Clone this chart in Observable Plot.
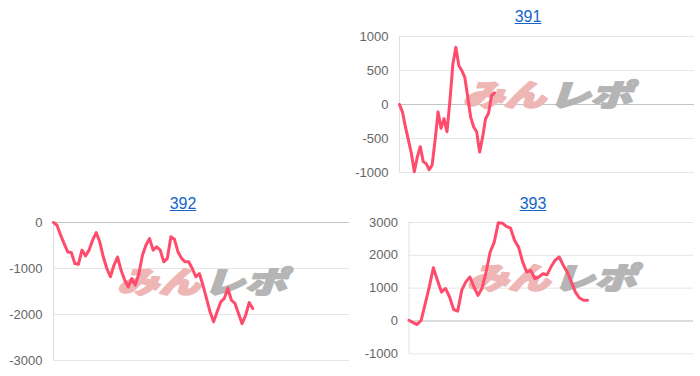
<!DOCTYPE html>
<html>
<head>
<meta charset="utf-8">
<script src="https://cdn.jsdelivr.net/npm/d3@7"></script>
<script src="https://cdn.jsdelivr.net/npm/@observablehq/plot@0.6"></script>
<style>
  html, body { margin: 0; padding: 0; background: #fff; }
  #board { position: relative; width: 700px; height: 376px; overflow: hidden;
           font-family: "Liberation Sans", Arial, sans-serif; }
  .panel { position: absolute; }
  .title { position: absolute; font-size: 16px; line-height: 20px; color: #1565c8;
           text-decoration: underline; transform: translateX(-50%); white-space: nowrap; }
</style>
</head>
<body>
<div id="board"></div>
<script>
// Machine numbers
const machines = ["391", "392", "393"];

// Running balance (medals) per machine
const balance391 = [0, -110, -330, -520, -720, -990, -770, -620, -840, -870, -960, -890, -520, -110,
  -350, -210, -400, 60, 600, 840, 570, 500, 400, 110, -190, -330, -400, -700, -480, -210, -130, 130, 170];

const balance392 = [0, -60, -275, -460, -640, -650, -890, -910, -600, -725, -600, -385, -220, -420,
  -750, -1000, -1180, -930, -750, -1040, -1250, -1400, -1220, -1360, -1110, -710, -490, -350, -600,
  -530, -600, -855, -780, -310, -365, -640, -780, -855, -855, -1000, -1180, -1110, -1360, -1650,
  -1940, -2160, -1940, -1730, -1650, -1430, -1690, -1760, -1980, -2200, -2020, -1740, -1870];

const balance393 = [20, -50, -110, 20, 530, 1040, 1620, 1240, 880, 990, 730, 350, 300, 940, 1190,
  1340, 1040, 780, 1000, 1490, 2100, 2400, 2990, 2980, 2880, 2830, 2460, 2250, 1800, 1490, 1540,
  1290, 1340, 1440, 1410, 1650, 1850, 1950, 1700, 1490, 1190, 880, 700, 630, 630];

// Y-axis tick labels
const ticks391 = [-1000, -500, 0, 500, 1000];
const ticks392 = [-3000, -2000, -1000, 0];
const ticks393 = [-1000, 0, 1000, 2000, 3000];

// Watermark text
const markLeft = "みん";
const markRight = "レポ";

const series = [balance391, balance392, balance393];
const tickSets = [ticks391, ticks392, ticks393];

// Panel placement on the board
const layout = [
  {left: 350, top: 26,  width: 350, height: 160, mt: 10, mb: 14,   ml: 49,   mr: 6, slots: 99.4, titleX: 528, titleY: 7},
  {left: 0,   top: 212, width: 350, height: 160, mt: 10, mb: 12,   ml: 53,   mr: 1, slots: 83.2, titleX: 183, titleY: 194},
  {left: 350, top: 212, width: 350, height: 160, mt: 10, mb: 18.7, ml: 58.5, mr: 7, slots: 70.1, titleX: 533, titleY: 194}
];

const board = document.getElementById("board");

// heavy italic watermark lettering (stroke in the fill colour thickens the glyphs)
const watermark = (text, dx, fill) => Plot.text([text], {
  text: d => d, frameAnchor: "middle", dx, dy: -8, fill, stroke: fill, strokeWidth: 2.2,
  fontSize: 34, fontWeight: 900, fontStyle: "italic",
  fontFamily: "Noto Sans CJK JP", letterSpacing: 1
});

machines.forEach((name, k) => {
  const L = layout[k];
  const values = series[k];
  const ticks = tickSets[k];

  const title = document.createElement("div");
  title.className = "title";
  title.textContent = name;
  title.style.left = L.titleX + "px";
  title.style.top = L.titleY + "px";
  board.appendChild(title);

  const chart = Plot.plot({
    width: L.width,
    height: L.height,
    marginTop: L.mt,
    marginBottom: L.mb,
    marginLeft: L.ml,
    marginRight: L.mr,
    style: {background: "transparent", fontFamily: "'Liberation Sans', Arial, sans-serif", overflow: "visible"},
    x: {domain: [0, L.slots], axis: null},
    y: {domain: d3.extent(ticks), axis: null},
    marks: [
      Plot.gridY(ticks, {stroke: "#e6e6e6", strokeOpacity: 1}),
      Plot.ruleY([0], {stroke: "#c4c4c4", strokeWidth: 1.2}),
      Plot.ruleX([0], {stroke: "#e0e0e0"}),
      Plot.axisY(ticks, {tickSize: 0, tickPadding: 11, fontSize: 13, color: "#666",
                         tickFormat: d => String(d)}),
      watermark(markLeft, -43, "#efb6b6"),
      watermark(markRight, 44, "#b5b5b5"),
      Plot.lineY(values, {stroke: "#ff4b6c", strokeWidth: 3, strokeLinejoin: "round"})
    ]
  });

  chart.classList.add("panel");
  chart.style.left = L.left + "px";
  chart.style.top = L.top + "px";
  board.appendChild(chart);

  // squat, wide lettering for the watermark: scale each run about its own centre
  d3.select(chart).selectAll("text")
    .filter(function () { return this.textContent === markLeft || this.textContent === markRight; })
    .each(function () {
      const b = this.getBBox();
      const cx = b.x + b.width / 2, cy = b.y + b.height / 2;
      const t = this.getAttribute("transform") || "";
      this.setAttribute("transform",
        `${t} translate(${cx},${cy}) scale(1.22,0.88) translate(${-cx},${-cy})`);
    });
});
</script>
</body>
</html>
